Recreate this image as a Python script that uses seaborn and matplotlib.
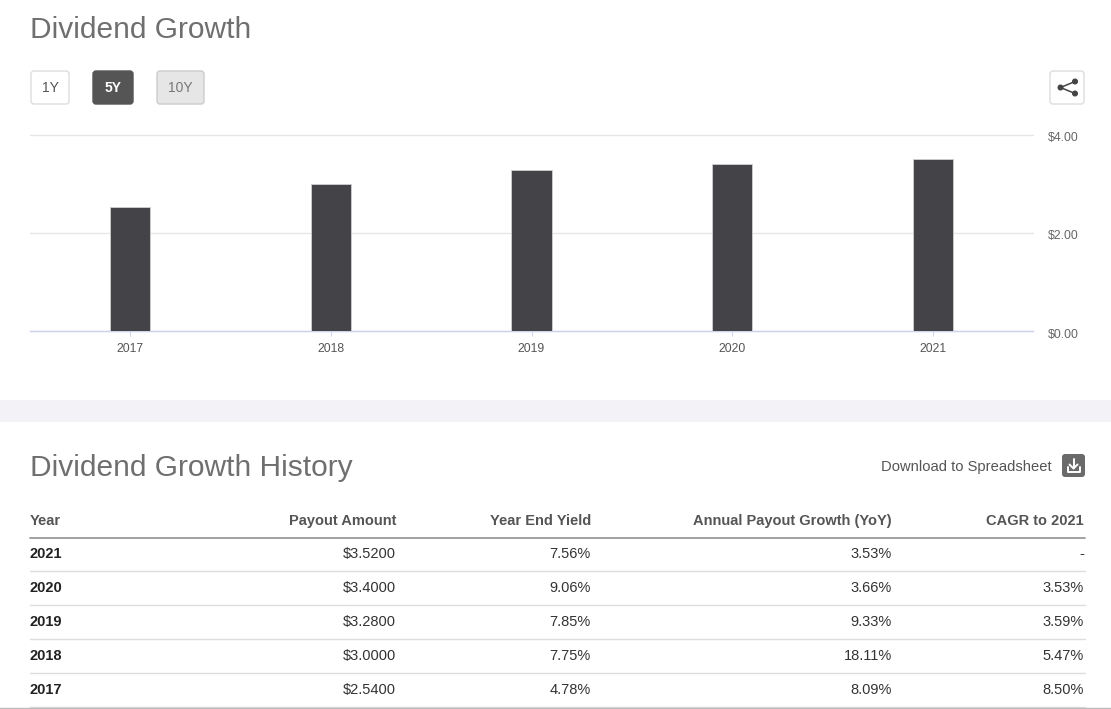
import numpy as np
import pandas as pd
import matplotlib
matplotlib.use("Agg")
import matplotlib.pyplot as plt
import matplotlib.transforms as mtrans
from matplotlib.patches import Rectangle, FancyBboxPatch, Circle
import seaborn as sns

# table rows, newest first (as on the page)
years = ["2021", "2020", "2019", "2018", "2017"]
payout = [3.52, 3.40, 3.28, 3.00, 2.54]
year_end_yield = ["7.56%", "9.06%", "7.85%", "7.75%", "4.78%"]
yoy_growth = ["3.53%", "3.66%", "9.33%", "18.11%", "8.09%"]
cagr = ["-", "3.53%", "3.59%", "5.47%", "8.50%"]
headers = ["Year", "Payout Amount", "Year End Yield", "Annual Payout Growth (YoY)", "CAGR to 2021"]
y_ticks = [0, 2, 4]
ranges = ["1Y", "5Y", "10Y"]

sns.set_style("white")
plt.rcParams["font.family"] = ["Liberation Sans", "DejaVu Sans"]

W, H = 1111, 709
fig = plt.figure(figsize=(W / 100, H / 100), dpi=100)
fig.patch.set_facecolor("white")

# page overlay in pixel coords (y down)
pg = fig.add_axes([0, 0, 1, 1])
pg.set_xlim(0, W)
pg.set_ylim(H, 0)
pg.axis("off")

# bar chart
ax = fig.add_axes([30 / W, (H - 331) / H, 1003 / W, 196 / H])
df = pd.DataFrame({"year": years[::-1], "payout": payout[::-1]})
sns.barplot(data=df, x="year", y="payout", color="#434348", saturation=1,
            width=0.2, edgecolor="#d0d0d0", linewidth=0.6, ax=ax, zorder=3)
ax.set_xlim(-0.5, len(years) - 0.5)
ax.set_ylim(0, 4)
ax.set_yticks(y_ticks)
ax.set_yticklabels([f"${v:.2f}" for v in y_ticks])
ax.yaxis.tick_right()
ax.tick_params(axis="y", length=0, pad=11, labelsize=8.8, labelcolor="#666666")
ax.tick_params(axis="x", length=3.6, width=0.8, color="#ccd6eb", pad=5,
               labelsize=8.8, labelcolor="#555555", bottom=True)
shift = mtrans.ScaledTranslation(0, -2 / 100, fig.dpi_scale_trans)
for t in ax.get_yticklabels():
    t.set_transform(t.get_transform() + shift)
ax.set_xlabel("")
ax.set_ylabel("")
for s in ["top", "left", "right"]:
    ax.spines[s].set_visible(False)
ax.spines["bottom"].set_color("#ccd6eb")
ax.spines["bottom"].set_linewidth(1)
ax.grid(axis="y", color="#e6e6e6", linewidth=1, zorder=0)
ax.set_axisbelow(True)
for gl in ax.get_ygridlines():
    gl.set_clip_on(False)

# title
pg.text(30, 30, "Dividend Growth", fontsize=21.5, color="#6f6f6f", va="center", ha="left")

# range buttons
btns = [(31, 38, "white", "#dddddd", "#555555", "normal"),
        (93, 40, "#555555", "#555555", "white", "bold"),
        (157, 47, "#e6e6e6", "#cccccc", "#777777", "normal")]
for lab, (x0, w, fc, ec, tc, fw) in zip(ranges, btns):
    pg.add_patch(FancyBboxPatch((x0, 71), w, 33, boxstyle="round,pad=0,rounding_size=3",
                                fc=fc, ec=ec, lw=1))
    pg.text(x0 + w / 2, 88.5, lab, fontsize=10, color=tc, ha="center", va="center", fontweight=fw)

# share button
pg.add_patch(FancyBboxPatch((1050, 71), 34, 33, boxstyle="round,pad=0,rounding_size=3",
                            fc="white", ec="#dddddd", lw=1))
pts = [(1075, 81.5), (1060.5, 87.5), (1075, 93.5)]
pg.plot([p[0] for p in pts], [p[1] for p in pts], color="#444444", lw=1.1)
for p in pts:
    pg.add_patch(Circle(p, 2.3, color="#444444"))

# separator band
pg.add_patch(Rectangle((0, 400), W, 22, fc="#f3f3f7", ec="none"))

# table section
pg.text(30, 468, "Dividend Growth History", fontsize=21.5, color="#6f6f6f", va="center", ha="left")
pg.text(1052, 466.5, "Download to Spreadsheet", fontsize=10.6, color="#555555", va="center", ha="right")
pg.add_patch(FancyBboxPatch((1062, 454), 23, 23, boxstyle="round,pad=0,rounding_size=3",
                            fc="#6a6a6a", ec="none"))
pg.plot([1073.5, 1073.5], [459, 468], color="white", lw=1.4)
pg.plot([1069.5, 1073.5, 1077.5], [464.5, 468.5, 464.5], color="white", lw=1.4)
pg.plot([1067.5, 1067.5, 1079.5, 1079.5], [467, 471.5, 471.5, 467], color="white", lw=1.4)

col_x = [30, 396, 591, 892, 1084]
col_ha = ["left", "right", "right", "right", "right"]
for x, ha, h in zip(col_x, col_ha, headers):
    pg.text(x, 521, h, fontsize=10.5, fontweight="bold", color="#555555", ha=ha, va="center")
pg.plot([30, 1085], [538, 538], color="#9a9a9a", lw=1.3)

row_y0, row_h = 554, 34
for i, yr in enumerate(years):
    y = row_y0 + i * row_h
    cells = [yr, f"${payout[i]:.4f}", year_end_yield[i], yoy_growth[i], cagr[i]]
    for j, (x, ha, c) in enumerate(zip(col_x, col_ha, cells)):
        pg.text(x, y, c, fontsize=10.5, ha=ha, va="center",
                color="#222222" if j == 0 else "#333333",
                fontweight="bold" if j == 0 else "normal")
    pg.plot([30, 1085], [y + 17, y + 17], color="#dddddd", lw=1)
pg.plot([0, W], [707.5, 707.5], color="#bbbbbb", lw=1)

fig.savefig("out.png", dpi=100, facecolor="white")
